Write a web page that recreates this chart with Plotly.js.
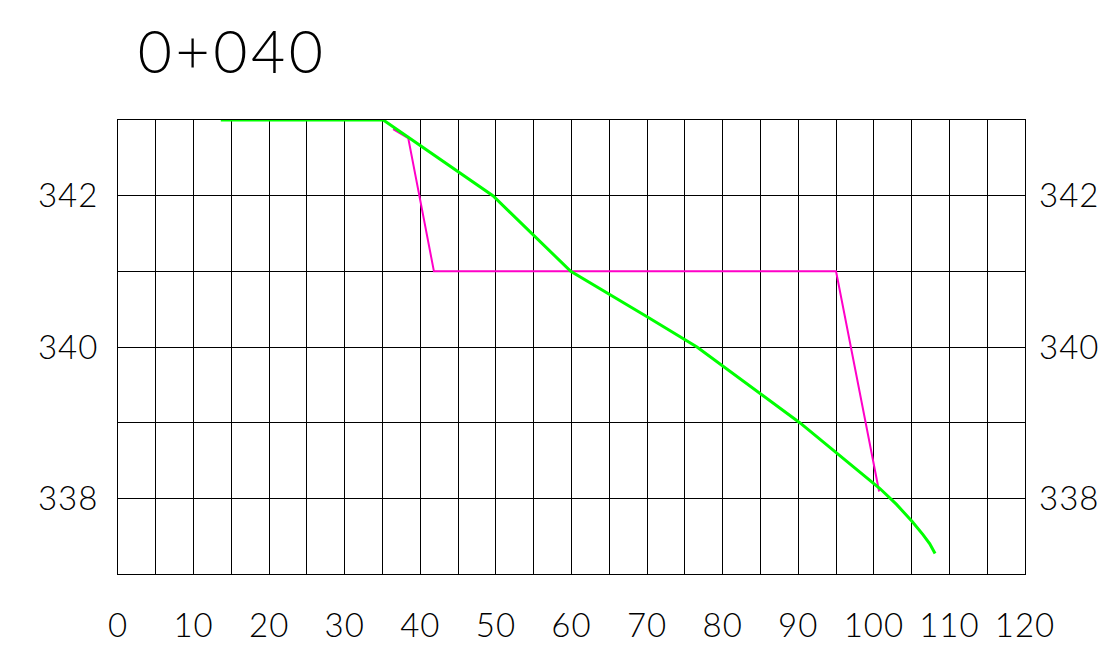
<!DOCTYPE html>
<html>
<head>
<meta charset="utf-8">
<script src="https://cdn.plot.ly/plotly-3.0.1.min.js"></script>
<style>html,body{margin:0;padding:0;background:#fff;}#chart{width:1120px;height:646px;}
.gtitle{letter-spacing:3.5px;}
.xtick text,.ytick text,.y2tick text{letter-spacing:1px;}
</style>
</head>
<body>
<div id="chart"></div>
<script>
// Ground profile (green)
const groundX = [13.6, 35.1, 49.6, 59.9, 70.0, 76.6, 90.2, 100.8, 103.0, 105.1, 106.5, 107.4, 108.1];
const groundY = [343.0, 343.0, 342.0, 341.0, 340.4, 340.0, 339.0, 338.13, 337.92, 337.69, 337.52, 337.4, 337.27];
// Design section (magenta)
const designX = [36.4, 38.4, 41.8, 95.0, 100.7];
const designY = [342.88, 342.76, 341.0, 341.0, 338.09];
// Ticks
const xTickVals = [0,5,10,15,20,25,30,35,40,45,50,55,60,65,70,75,80,85,90,95,100,105,110,115,120];
const xTickText = ['0','','10','','20','','30','','40','','50','','60','','70','','80','','90','','100','','110','','120'];
const yTickVals = [337,338,339,340,341,342,343];
const yTickText = ['','338','','340','','342',''];
const titleText = '0+040';

const fontFam = 'Lato, "DejaVu Sans", sans-serif';
const traces = [
  {x: designX, y: designY, type: 'scatter', mode: 'lines', line: {color: '#ff00c8', width: 2}, hoverinfo: 'skip'},
  {x: groundX, y: groundY, type: 'scatter', mode: 'lines', line: {color: '#00ff00', width: 3}, hoverinfo: 'skip'},
  {x: [0], y: [340], type: 'scatter', mode: 'markers', marker: {opacity: 0}, yaxis: 'y2', hoverinfo: 'skip'}
];
const layout = {
  width: 1120, height: 646,
  margin: {l: 118, r: 95, t: 120, b: 72},
  paper_bgcolor: '#fff', plot_bgcolor: '#fff',
  showlegend: false,
  title: {text: titleText, xref: 'container', yref: 'container', x: 0.123, xanchor: 'left', y: 0.919, yanchor: 'middle',
          font: {family: fontFam, size: 59, color: '#000', weight: 300}},
  xaxis: {range: [0, 120], tickmode: 'array', tickvals: xTickVals, ticktext: xTickText,
          showgrid: true, gridcolor: '#000', gridwidth: 1, zeroline: false,
          showline: true, linecolor: '#000', linewidth: 1, mirror: true, ticks: '', ticklen: 0,
          tickfont: {family: fontFam, size: 33, color: '#000', weight: 300}, ticklabelstandoff: 22},
  yaxis: {range: [337, 343], tickmode: 'array', tickvals: yTickVals, ticktext: yTickText,
          showgrid: true, gridcolor: '#000', gridwidth: 1, zeroline: false,
          showline: true, linecolor: '#000', linewidth: 1, mirror: true, ticks: '',
          tickfont: {family: fontFam, size: 33, color: '#000', weight: 300}, ticklabelstandoff: 12},
  yaxis2: {range: [337, 343], overlaying: 'y', side: 'right', tickmode: 'array', tickvals: yTickVals, ticktext: yTickText,
           showgrid: false, zeroline: false, showline: false, ticks: '',
           tickfont: {family: fontFam, size: 33, color: '#000', weight: 300}, ticklabelstandoff: 13}
};
Plotly.newPlot('chart', traces, layout, {staticPlot: true});
</script>
</body>
</html>
